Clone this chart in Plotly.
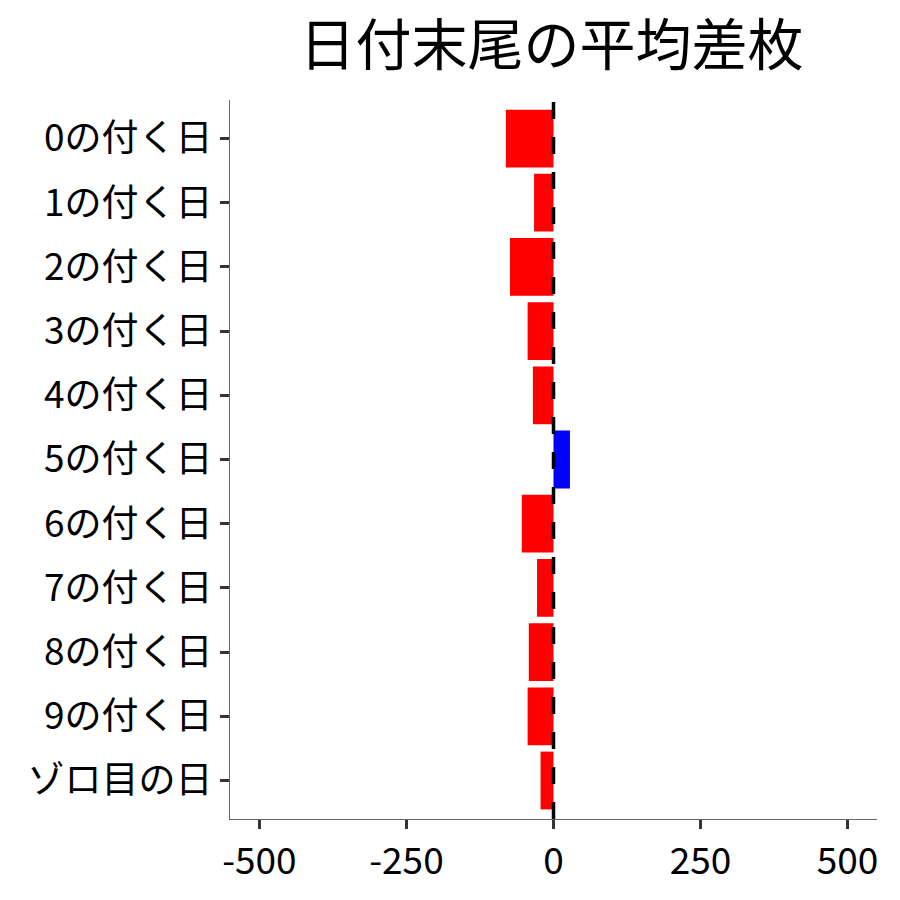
import plotly.graph_objects as go

# 日付末尾ごとの平均差枚
categorias = ["0の付く日", "1の付く日", "2の付く日", "3の付く日", "4の付く日",
              "5の付く日", "6の付く日", "7の付く日", "8の付く日", "9の付く日",
              "ゾロ目の日"]
diferenca = [-81, -33, -74, -44, -35, 28, -54, -28, -42, -44, -22]
x_ticks = [-500, -250, 0, 250, 500]
x_ticktext = ["-500", "-250", "0", "250", "500"]

FONTE = "Noto Sans CJK JP"


def criar_grafico():
    cores = ["#0000FF" if v > 0 else "#FF0000" for v in diferenca]

    fig = go.Figure(go.Bar(
        x=diferenca,
        y=categorias,
        orientation="h",
        marker=dict(color=cores, line=dict(width=0)),
        width=0.9,
    ))

    # linha tracejada no zero
    fig.add_shape(type="line", xref="x", yref="paper", x0=0, x1=0, y0=0, y1=1,
                  line=dict(color="black", width=3.5, dash="17px,18px"),
                  layer="above")

    fig.update_layout(
        title=dict(text="日付末尾の平均差枚", x=0.604, xanchor="center",
                   y=0.959, yanchor="middle",
                   font=dict(family=FONTE, size=56, color="black")),
        width=900, height=900,
        margin=dict(l=222, r=31, t=92, b=89),
        plot_bgcolor="white", paper_bgcolor="white",
        showlegend=False,
        font=dict(family=FONTE, color="black"),
    )
    fig.update_xaxes(
        range=[-550, 550], tickvals=x_ticks, ticktext=x_ticktext,
        showgrid=False, zeroline=False,
        showline=True, linecolor="#666666", linewidth=1.2,
        ticks="outside", ticklen=9, tickwidth=2.5, tickcolor="#333333",
        tickfont=dict(family=FONTE, size=37, color="black"),
    )
    fig.update_yaxes(
        categoryorder="array", categoryarray=categorias,
        range=[10.6, -0.6],
        showgrid=False, zeroline=False,
        showline=True, linecolor="#666666", linewidth=1.2,
        ticks="outside", ticklen=9, tickwidth=2.5, tickcolor="#333333",
        tickfont=dict(family=FONTE, size=37, color="black"),
    )
    return fig


def main():
    fig = criar_grafico()
    fig.write_html("out.html")


if __name__ == "__main__":
    main()
